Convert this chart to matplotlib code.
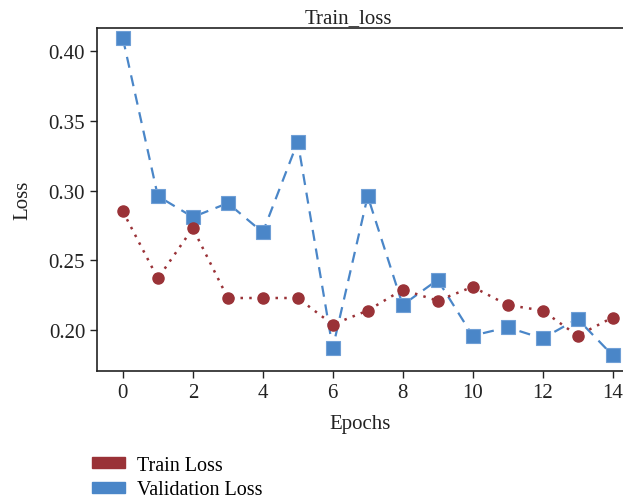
import numpy as np
import matplotlib
matplotlib.use("Agg")
import matplotlib.pyplot as plt
from matplotlib.patches import Patch

# data
epochs = list(range(15))
train_loss = [0.285, 0.237, 0.273, 0.223, 0.223, 0.223, 0.204, 0.214, 0.229,
              0.221, 0.231, 0.218, 0.214, 0.196, 0.209]
val_loss = [0.409, 0.296, 0.281, 0.291, 0.270, 0.335, 0.187, 0.296, 0.218,
            0.236, 0.196, 0.202, 0.194, 0.208, 0.182]
x_ticks = [0, 2, 4, 6, 8, 10, 12, 14]
y_ticks = [0.20, 0.25, 0.30, 0.35, 0.40]

red = "#9a3237"
blue = "#4a86c8"

plt.rcParams["font.family"] = ["Liberation Serif", "DejaVu Serif"]
plt.rcParams["font.size"] = 15

fig = plt.figure(figsize=(6.23, 5.02), dpi=100)
ax = fig.add_axes([0.1557, 0.259, 0.8443, 0.683])

ax.plot(epochs, val_loss, color=blue, linestyle=(0, (5, 3.5)), linewidth=1.6,
        marker="s", markersize=10, markeredgecolor="#6f9fd6", markeredgewidth=0.8,
        zorder=3)
ax.plot(epochs, train_loss, color=red, linestyle=(0, (1, 2.5)), linewidth=1.8,
        marker="o", markersize=8, markeredgecolor=red, zorder=4)

ax.set_xlim(-0.74, 14.3)
ax.set_ylim(0.1707, 0.4164)
ax.set_xticks(x_ticks)
ax.set_yticks(y_ticks)
ax.set_yticklabels(["%.2f" % v for v in y_ticks])

ax.spines["right"].set_visible(False)
for s in ["left", "bottom", "top"]:
    ax.spines[s].set_color("#222222")
    ax.spines[s].set_linewidth(1.2)
ax.tick_params(direction="out", length=5, width=1, colors="#222222",
               labelcolor="#222222", labelsize=15)

ax.set_title("Train_loss", x=0.477, fontsize=15, color="#222222", pad=4)
ax.set_xlabel("Epochs", fontsize=15, color="#222222", labelpad=9)
ax.set_ylabel("Loss", fontsize=15, color="#222222", labelpad=12)

handles = [Patch(facecolor=red, edgecolor=red), Patch(facecolor=blue, edgecolor=blue)]
fig.legend(handles, ["Train Loss", "Validation Loss"], loc="upper left",
           bbox_to_anchor=(0.131, 0.11), frameon=False, fontsize=14.5,
           handlelength=1.65, handleheight=0.5, labelspacing=0.28, handletextpad=0.6,
           borderpad=0)

fig.savefig("out.png", dpi=100)
